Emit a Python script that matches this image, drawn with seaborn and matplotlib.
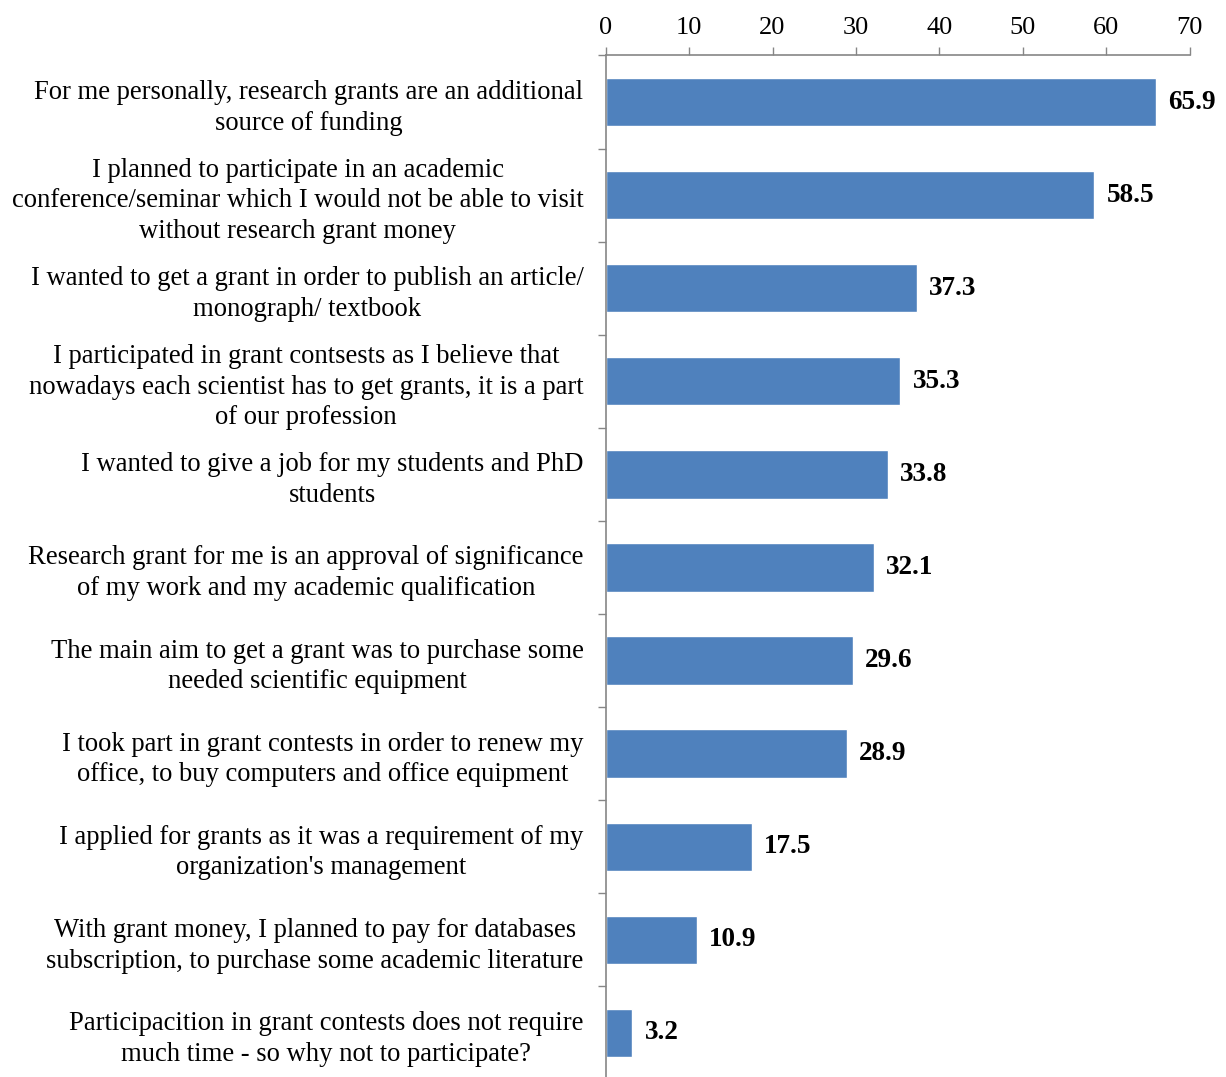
import matplotlib
matplotlib.use("Agg")
import matplotlib.pyplot as plt
import seaborn as sns
import pandas as pd
from matplotlib.ticker import FixedLocator

reasons = [
    "For me personally, research grants are an additional\nsource of funding",
    "I planned to participate in an academic\nconference/seminar which I would not be able to visit\nwithout research grant money",
    "I wanted to get a grant in order to publish an article/\nmonograph/ textbook",
    "I participated in grant contsests as I believe that\nnowadays each scientist has to get grants, it is a part\nof our profession",
    "I wanted to give a job for my students and PhD\nstudents",
    "Research grant for me is an approval of significance\nof my work and my academic qualification",
    "The main aim to get a grant was to purchase some\nneeded scientific equipment",
    "I took part in grant contests in order to renew my\noffice, to buy computers and office equipment",
    "I applied for grants as it was a requirement of my\norganization's management",
    "With grant money, I planned to pay for databases\nsubscription, to purchase some academic literature",
    "Participacition in grant contests does not require\nmuch time - so why not to participate?",
]
shares = [65.9, 58.5, 37.3, 35.3, 33.8, 32.1, 29.6, 28.9, 17.5, 10.9, 3.2]
x_ticks = [0, 10, 20, 30, 40, 50, 60, 70]

df = pd.DataFrame({"reason": reasons, "share": shares})

sns.set_theme(style="white")
plt.rcParams["font.family"] = ["Liberation Serif", "DejaVu Serif"]
plt.rcParams["text.color"] = "black"
plt.rcParams["xtick.labelcolor"] = "black"
plt.rcParams["ytick.labelcolor"] = "black"

fig = plt.figure(figsize=(12.26, 10.77), dpi=100)
ax = fig.add_axes([0.494, -0.0023, 0.4765, 0.9508])

sns.barplot(data=df, y="reason", x="share", orient="h", color="#4F81BD",
            saturation=1, width=0.52, ax=ax)

ax.set_xlim(0, 70)
ax.set_ylim(len(reasons) - 0.5, -0.5)
ax.set_xlabel("")
ax.set_ylabel("")

# value axis on top
ax.xaxis.set_major_locator(FixedLocator(x_ticks))
ax.xaxis.tick_top()
ax.tick_params(axis="x", which="major", direction="out", length=6, width=1,
               color="#868686", labelsize=19, labelcolor="black", pad=6,
               top=True, bottom=False)

# category labels centred, tick marks at category boundaries
ax.tick_params(axis="y", which="major", length=0, pad=16, labelsize=19.2,
               labelcolor="black")
for lbl in ax.get_yticklabels():
    lbl.set_multialignment("center")
    lbl.set_linespacing(1.3)
ax.yaxis.set_minor_locator(FixedLocator([i + 0.5 for i in range(-1, len(reasons))]))
ax.tick_params(axis="y", which="minor", direction="out", length=6, width=1,
               color="#868686", left=True)

for side in ("right", "bottom"):
    ax.spines[side].set_visible(False)
for side in ("left", "top"):
    ax.spines[side].set_color("#868686")
    ax.spines[side].set_linewidth(1.2)

for i, v in enumerate(shares):
    ax.annotate(f"{v:.1f}", xy=(v, i), xytext=(9, 0), textcoords="offset points",
                ha="left", va="center", fontsize=19.5, fontweight="bold",
                color="black", annotation_clip=False)

fig.savefig("out.png", dpi=100)
